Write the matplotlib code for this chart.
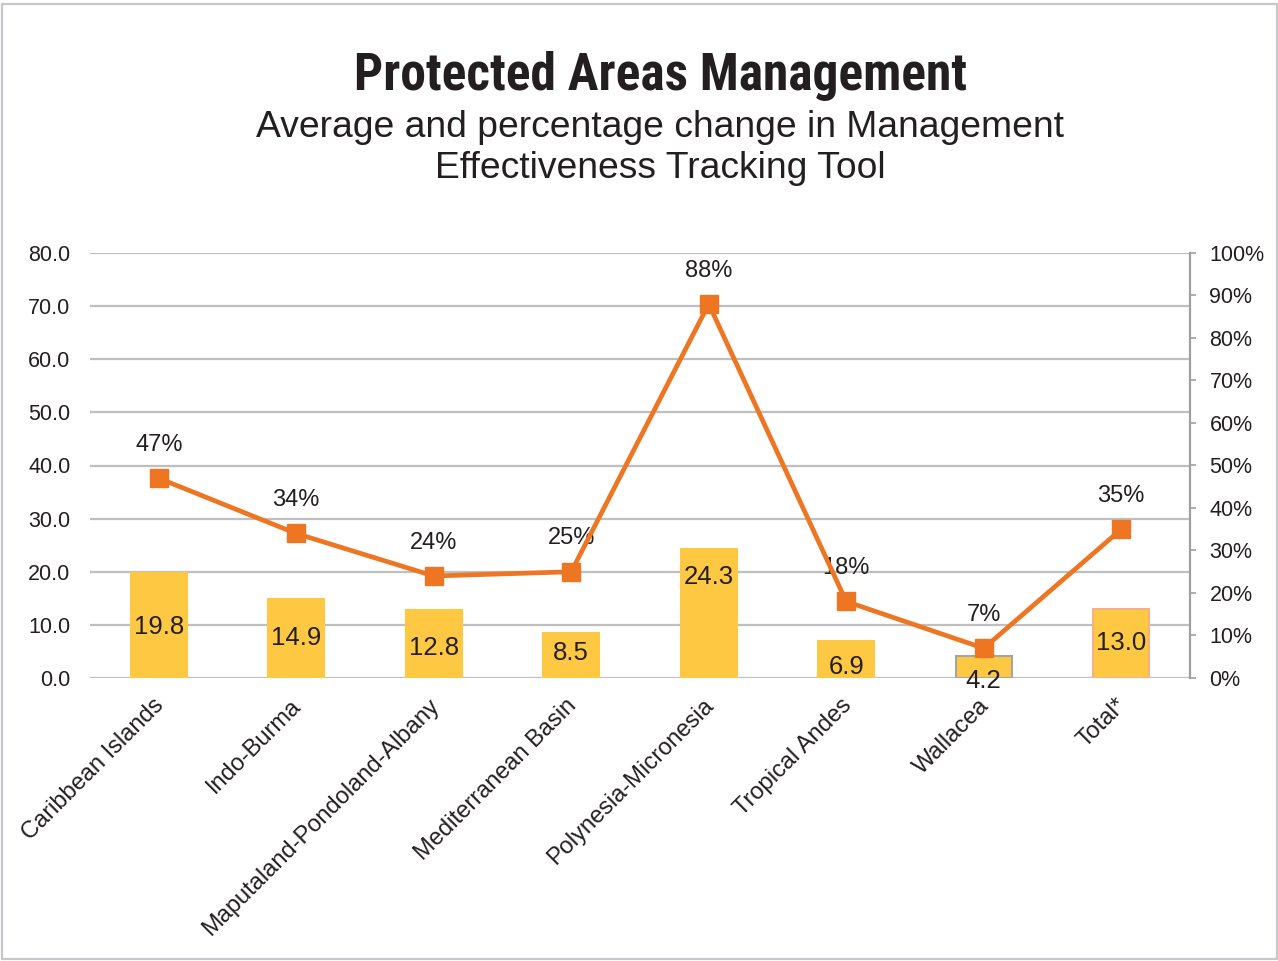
import matplotlib
matplotlib.use("Agg")
import matplotlib.pyplot as plt
from matplotlib.patches import Rectangle
from matplotlib.transforms import ScaledTranslation

categories = ["Caribbean Islands", "Indo-Burma", "Maputaland-Pondoland-Albany",
              "Mediterranean Basin", "Polynesia-Micronesia", "Tropical Andes",
              "Wallacea", "Total*"]
avg_values = [19.8, 14.9, 12.8, 8.5, 24.3, 6.9, 4.2, 13.0]
pct_change = [47, 34, 24, 25, 88, 18, 7, 35]
left_ticks = [0, 10, 20, 30, 40, 50, 60, 70, 80]
right_ticks = [0, 10, 20, 30, 40, 50, 60, 70, 80, 90, 100]

# label positions (layout, data units of left axis)
bar_label_y = [9.6, 7.5, 5.6, 4.7, 19.0, 2.1, -0.6, 6.6]

BAR = "#FFC843"
LINE = "#EE7623"
GRID = "#BFBFBF"
TXT = "#231F20"
FONT = ["Liberation Sans", "DejaVu Sans"]
plt.rcParams["font.family"] = FONT

W, H = 1278, 961
fig = plt.figure(figsize=(W / 100, H / 100), dpi=100)
fig.patch.set_facecolor("white")
fig.add_artist(Rectangle((1.5 / W, 1 - 959 / H), (1275.5) / W, (955) / H,
                         transform=fig.transFigure, fill=False,
                         edgecolor="#C8C8CC", linewidth=1.6))

ax = fig.add_axes([90 / W, 1 - 678 / H, 1100 / W, 425 / H])
x = list(range(len(categories)))
edges = [BAR] * len(categories)
edges[6] = "#A5A5A5"
edges[7] = "#F4B183"
ax.bar(x, avg_values, width=0.41, color=BAR, edgecolor=edges, linewidth=1.5, zorder=2)
ax.set_xlim(-0.5, len(categories) - 0.5)
ax.set_ylim(0, 80)
ax.set_yticks(left_ticks)
ax.set_yticklabels([f"{v:.1f}" for v in left_ticks])
ax.grid(axis="y", color=GRID, linewidth=1.6, zorder=0)
ax.set_axisbelow(True)
for s in ax.spines.values():
    s.set_visible(False)
ax.tick_params(axis="y", length=0, pad=14, labelsize=15.5, labelcolor=TXT)
ax.tick_params(axis="x", length=0, pad=12)
ax.set_xticks(x)
ax.set_xticklabels(categories, rotation=45, ha="right", va="top",
                   rotation_mode="anchor", fontsize=17, color=TXT)
off = ScaledTranslation(-6 / 100, 0, fig.dpi_scale_trans)
for lab in ax.get_xticklabels():
    lab.set_transform(lab.get_transform() + off)
for xi, v, ly in zip(x, avg_values, bar_label_y):
    ax.text(xi, ly, f"{v:.1f}", ha="center", va="center", fontsize=18.5, color=TXT, zorder=5)

ax2 = ax.twinx()
ax2.set_ylim(0, 100)
ax2.set_yticks(right_ticks)
ax2.set_yticklabels([f"{v}%" for v in right_ticks])
for s in ax2.spines.values():
    s.set_visible(False)
ax2.spines["right"].set_visible(True)
ax2.spines["right"].set_color("#A0A0A0")
ax2.spines["right"].set_linewidth(1.6)
ax2.tick_params(axis="y", length=4, width=1.2, color="#A0A0A0", pad=10,
                labelsize=15.5, labelcolor=TXT)
ax2.plot(x, pct_change, color=LINE, linewidth=3.4, marker="s", markersize=13, zorder=4)
for xi, p in zip(x, pct_change):
    ax2.annotate(f"{p}%", (xi, p), xytext=(0, 24), textcoords="offset points",
                 ha="center", va="center", fontsize=17, color=TXT)

fig.text(661 / W, 1 - 76 / H, "Protected Areas Management", ha="center", va="center",
         fontsize=37, fontweight="bold", color=TXT,
         family=["Roboto Condensed", "Archivo Narrow", "Liberation Sans", "DejaVu Sans"])
fig.text(660 / W, 1 - 148 / H,
         "Average and percentage change in Management\nEffectiveness Tracking Tool",
         ha="center", va="center", fontsize=26.8, color=TXT, linespacing=1.2)

fig.savefig("out.png", dpi=100)
